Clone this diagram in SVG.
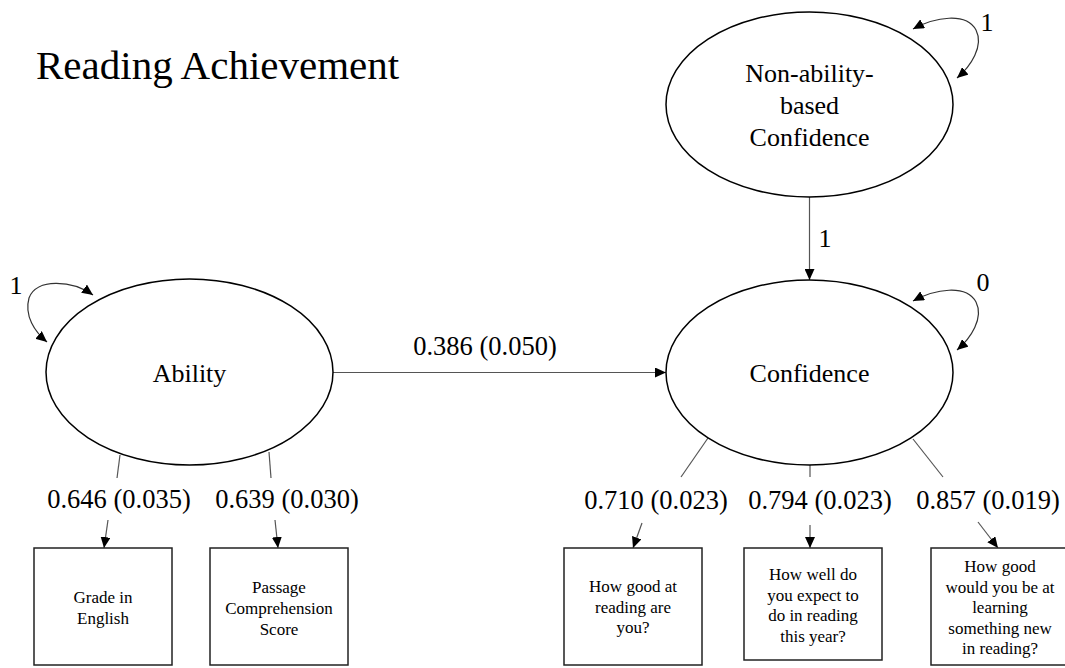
<svg xmlns="http://www.w3.org/2000/svg" width="1065" height="668" viewBox="0 0 1065 668" font-family="'Liberation Serif', 'DejaVu Serif', serif">
<style>
text{font-family:'Liberation Serif','DejaVu Serif',serif;fill:#000}
.t{font-size:41px}
.n{font-size:26px;text-anchor:middle}
.l{font-size:26.5px;text-anchor:middle}
.b{font-size:17px;text-anchor:middle}
.node{fill:#fff;stroke:#000;stroke-width:1.5}
.box{fill:#fff;stroke:#222;stroke-width:1.5}
.c{fill:none;stroke:#555;stroke-width:1.2}
.ca{fill:none;stroke:#555;stroke-width:1.2;marker-end:url(#ah)}
.loop{fill:none;stroke:#333;stroke-width:1.2;marker-start:url(#ah);marker-end:url(#ah)}
</style>
<defs>
<marker id="ah" markerWidth="12" markerHeight="10" refX="11" refY="5" orient="auto-start-reverse" markerUnits="userSpaceOnUse">
<path d="M0,0 L11,5 L0,10 z" fill="#000"/>
</marker>
</defs>
<rect width="1065" height="668" fill="#fff"/>
<text class="t" x="36" y="79">Reading Achievement</text>

<g id="connectors">
<line class="ca" x1="809.5" y1="197" x2="809.5" y2="280"/>
<line class="ca" x1="333" y1="372.5" x2="666" y2="372.5"/>
<path class="loop" d="M93,295 C72,280 36,278 29,298 C24,316 35,332 47,342"/>
<path class="loop" d="M913,29 C935,17 966,12 976,30 C984,46 971,66 957,78"/>
<path class="loop" d="M913,301 C935,289 966,284 976,302 C984,318 971,338 957,350"/>
<line class="c" x1="120" y1="455" x2="117" y2="478"/>
<line class="ca" x1="108" y1="520" x2="104" y2="548"/>
<line class="c" x1="269" y1="452" x2="271" y2="478"/>
<line class="ca" x1="275" y1="520" x2="278" y2="548"/>
<line class="c" x1="708" y1="438" x2="681" y2="477"/>
<line class="ca" x1="642" y1="523" x2="633" y2="548"/>
<line class="c" x1="810" y1="465" x2="810" y2="477"/>
<line class="ca" x1="810" y1="525" x2="810" y2="548"/>
<line class="c" x1="913" y1="439" x2="943" y2="477"/>
<line class="ca" x1="978" y1="522" x2="998" y2="548"/>
<text class="n" x="825" y="247">1</text>
<text class="n" x="987" y="31">1</text>
<text class="n" x="983" y="291">0</text>
<text class="n" x="16" y="294">1</text>
<text class="l" x="485" y="355">0.386 (0.050)</text>
<text class="l" x="119" y="508">0.646 (0.035)</text>
<text class="l" x="287" y="508">0.639 (0.030)</text>
<text class="l" x="656" y="509">0.710 (0.023)</text>
<text class="l" x="820" y="509">0.794 (0.023)</text>
<text class="l" x="988" y="509">0.857 (0.019)</text>
</g>

<g id="nonability">
<ellipse class="node" cx="809.5" cy="104.5" rx="143.5" ry="92.5"/>
<text class="n" x="809.5" y="82">Non-ability-</text>
<text class="n" x="809.5" y="114">based</text>
<text class="n" x="809.5" y="146">Confidence</text>
</g>
<g id="ability">
<ellipse class="node" cx="189.5" cy="372" rx="143.5" ry="93"/>
<text class="n" x="189.5" y="382">Ability</text>
</g>
<g id="confidence">
<ellipse class="node" cx="809.5" cy="372.5" rx="143.5" ry="92.5"/>
<text class="n" x="809.5" y="382">Confidence</text>
</g>

<g id="grade">
<rect class="box" x="34" y="548" width="138" height="117"/>
<text class="b" x="103" y="603">Grade in</text>
<text class="b" x="103" y="624">English</text>
</g>
<g id="passage">
<rect class="box" x="210" y="548" width="138" height="117"/>
<text class="b" x="279" y="593">Passage</text>
<text class="b" x="279" y="614">Comprehension</text>
<text class="b" x="279" y="635">Score</text>
</g>
<g id="q1">
<rect class="box" x="564" y="548" width="138" height="117"/>
<text class="b" x="633" y="592">How good at</text>
<text class="b" x="633" y="612.5">reading are</text>
<text class="b" x="633" y="633">you?</text>
</g>
<g id="q2">
<rect class="box" x="744" y="548" width="138" height="112"/>
<text class="b" x="813" y="580">How well do</text>
<text class="b" x="813" y="600.5">you expect to</text>
<text class="b" x="813" y="621">do in reading</text>
<text class="b" x="813" y="641.5">this year?</text>
</g>
<g id="q3">
<rect class="box" x="931" y="548" width="138" height="117"/>
<text class="b" x="1000" y="572">How good</text>
<text class="b" x="1000" y="592.5">would you be at</text>
<text class="b" x="1000" y="613">learning</text>
<text class="b" x="1000" y="633.5">something new</text>
<text class="b" x="1000" y="654">in reading?</text>
</g>
</svg>
